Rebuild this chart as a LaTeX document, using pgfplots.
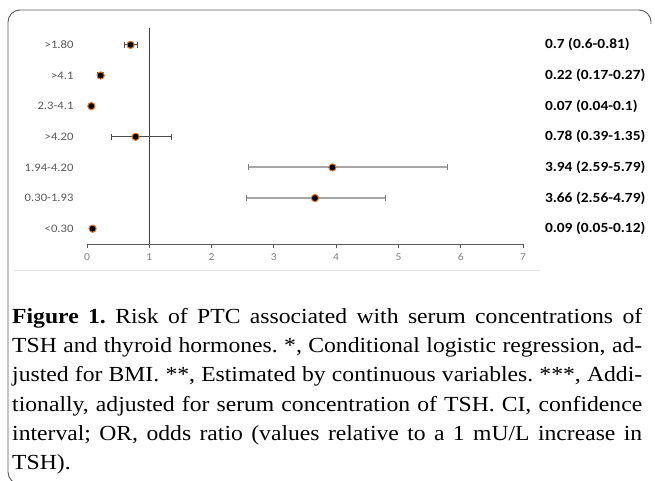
\documentclass[border=0pt]{standalone}
\usepackage{pgfplots}
\pgfplotsset{compat=1.18}
\usepackage{pgfplotstable}
\usepackage{fontspec}
\setmainfont{Liberation Serif}
\newfontfamily\capfont[FakeStretch=1.1]{Liberation Serif}
\newfontfamily\calfont[FakeStretch=1.1]{Carlito}
\definecolor{ptorange}{HTML}{E8731E}
\definecolor{axgray}{HTML}{595959}

% OR with 95% CI, rows from bottom (1) to top (7)
\pgfplotstableread{
row or   lo   hi
1   0.09 0.05 0.12
4   0.78 0.39 1.35
5   0.07 0.04 0.10
6   0.22 0.17 0.27
7   0.70 0.60 0.81
}\darkrows
\pgfplotstableread{
row or   lo   hi
2   3.66 2.56 4.79
3   3.94 2.59 5.79
}\lightrows

\begin{document}
\frenchspacing
\begin{tikzpicture}[x=1pt,y=1pt]
\useasboundingbox (0,0) rectangle (655,-481);
\draw[axgray, line width=0.9pt, rounded corners=12pt]
  (24,-484) -- (8,-484) -- (8,-10) -- (651,-10) -- (651,-24);
\draw[gray!20, line width=0.8pt] (14,-270) -- (540,-270);

\begin{axis}[
  at={(87pt,-244pt)}, anchor=south west,
  scale only axis, width=436pt, height=216pt,
  xmin=0, xmax=7, ymin=0.5, ymax=7.55,
  axis x line=bottom, axis y line=left,
  x axis line style={axgray, -, line width=0.8pt},
  y axis line style={draw=none},
  xtick={0,...,7}, tick align=outside,
  major tick length=4pt,
  xtick style={axgray, line width=0.8pt},
  ytick={1,...,7},
  yticklabels={<0.30,0.30-1.93,1.94-4.20,>4.20,2.3-4.1,>4.1,>1.80},
  ytick style={draw=none},
  ticklabel style={font=\calfont\fontsize{11.5}{14}\selectfont, text=axgray},
  xticklabel style={font=\calfont\fontsize{10.5}{13}\selectfont, text=gray, yshift=-2pt},
  yticklabel style={anchor=east, xshift=-6pt},
  /pgf/number format/assume math mode=true,
  clip=false,
]
\addplot[black!75, line width=0.8pt] coordinates {(1,0.5) (1,7.55)};

% wide light grey CI lines of the two middle rows
\addplot[black!35, line width=2pt] coordinates {(2.56,2) (4.79,2)};
\addplot[black!35, line width=2pt] coordinates {(2.59,3) (5.79,3)};

\addplot[draw=none, mark=*, mark size=3.6pt,
  mark options={fill=black, draw=ptorange, line width=1pt},
  error bars/.cd, x dir=both, x explicit, error mark=|,
  error bar style={/tikz/draw=black!35, /tikz/line width=2pt},
  error mark options={black!50, mark size=3pt, line width=0.9pt}]
  table[x=or, y=row,
    x error plus expr=\thisrow{hi}-\thisrow{or},
    x error minus expr=\thisrow{or}-\thisrow{lo}] {\lightrows};

\addplot[draw=none, mark=*, mark size=3.6pt,
  mark options={fill=black, draw=ptorange, line width=1pt},
  error bars/.cd, x dir=both, x explicit, error mark=|,
  error bar style={/tikz/draw=black!70, /tikz/line width=0.9pt},
  error mark options={black!70, mark size=3pt, line width=0.9pt}]
  table[x=or, y=row,
    x error plus expr=\thisrow{hi}-\thisrow{or},
    x error minus expr=\thisrow{or}-\thisrow{lo}] {\darkrows};

\begin{scope}[every node/.style={anchor=west, inner sep=0pt,
    font=\calfont\bfseries\fontsize{14}{17}\selectfont}]
\node at (axis cs:7.35,7) {0.7 (0.6-0.81)};
\node at (axis cs:7.35,6) {0.22 (0.17-0.27)};
\node at (axis cs:7.35,5) {0.07 (0.04-0.1)};
\node at (axis cs:7.35,4) {0.78 (0.39-1.35)};
\node at (axis cs:7.35,3) {3.94 (2.59-5.79)};
\node at (axis cs:7.35,2) {3.66 (2.56-4.79)};
\node at (axis cs:7.35,1) {0.09 (0.05-0.12)};
\end{scope}
\end{axis}

\node[anchor=north west, inner sep=0pt, font=\capfont\fontsize{21.5}{29.3}\selectfont]
  at (12,-308) {\begin{minipage}[t]{630pt}\setlength{\parindent}{0pt}%
\makebox[630pt][s]{\textbf{Figure 1.} Risk of PTC associated with serum concentrations of}\\
\makebox[630pt][s]{TSH and thyroid hormones. *, Conditional logistic regression, ad-}\\
\makebox[630pt][s]{justed for BMI. **, Estimated by continuous variables. ***, Addi-}\\
\makebox[630pt][s]{tionally, adjusted for serum concentration of TSH. CI, confidence}\\
\makebox[630pt][s]{interval; OR, odds ratio (values relative to a 1 mU/L increase in}\\
TSH).\end{minipage}};
\end{tikzpicture}
\end{document}
